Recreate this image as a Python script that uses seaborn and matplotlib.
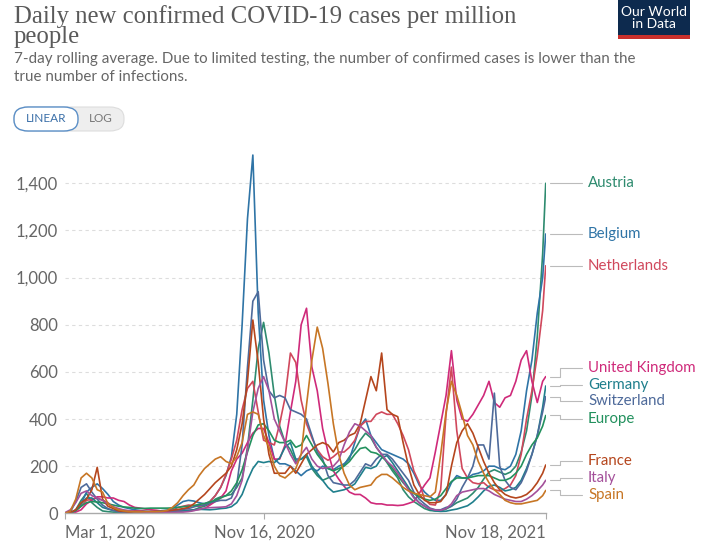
import pandas as pd
import numpy as np
import seaborn as sns
import matplotlib.pyplot as plt
import matplotlib.transforms as mtransforms
from matplotlib.patches import FancyBboxPatch, Rectangle

# weekly dates from Mar 1 2020, last point Nov 18 2021
dates = list(pd.date_range("2020-03-01", periods=90, freq="7D")) + [pd.Timestamp("2021-11-18")]

austria = [0, 2, 15, 55, 85, 45, 25, 10, 7, 5,
           4, 4, 4, 3, 3, 3, 5, 8, 11, 12,
           12, 12, 13, 9, 14, 24, 30, 40, 60, 70,
           75, 80, 110, 150, 280, 480, 700, 810, 680, 500,
           370, 300, 270, 220, 230, 240, 190, 160, 140, 150,
           160, 180, 205, 240, 270, 310, 340, 320, 280, 250,
           215, 180, 150, 100, 70, 50, 35, 20, 12, 10,
           10, 18, 30, 45, 55, 65, 85, 110, 145, 175,
           185, 175, 165, 175, 200, 260, 350, 500, 750, 1100,
           1400]
belgium = [0, 2, 12, 40, 90, 110, 125, 105, 80, 50,
           35, 25, 20, 15, 12, 9, 8, 8, 10, 12,
           20, 35, 50, 55, 52, 45, 40, 50, 75, 110,
           160, 240, 420, 800, 1250, 1520, 850, 480, 330, 230,
           210, 210, 200, 180, 160, 180, 190, 180, 200, 190,
           185, 200, 210, 230, 300, 370, 400, 330, 300, 270,
           260, 250, 240, 230, 210, 170, 120, 90, 70, 55,
           55, 80, 130, 160, 150, 150, 165, 170, 180, 200,
           200, 190, 185, 200, 250, 350, 520, 650, 850, 1000,
           1185]
netherlands = [0, 2, 10, 30, 55, 60, 65, 55, 45, 25,
               15, 12, 10, 10, 10, 8, 5, 3, 4, 6,
               12, 25, 30, 35, 33, 30, 35, 50, 75, 110,
               165, 230, 310, 440, 530, 560, 430, 310, 300, 290,
               380, 490, 680, 640, 480, 380, 320, 270, 240, 225,
               240, 260, 260, 280, 310, 370, 390, 390, 420, 430,
               420, 420, 380, 330, 270, 180, 130, 60, 38, 35,
               100, 420, 620, 350, 190, 150, 130, 125, 130, 110,
               100, 95, 105, 120, 160, 250, 400, 520, 670, 860,
               1050]
uk = [0, 1, 5, 15, 40, 55, 70, 70, 65, 65,
      55, 50, 35, 25, 22, 18, 15, 13, 10, 9,
      10, 11, 12, 13, 15, 16, 20, 35, 50, 65,
      95, 180, 230, 255, 300, 340, 360, 360, 300, 230,
      230, 290, 430, 560, 800, 870, 620, 520, 360, 260,
      180, 145, 115, 90, 80, 80, 65, 45, 40, 40,
      35, 35, 33, 35, 42, 50, 85, 120, 150, 260,
      380, 500, 690, 480, 400, 390, 420, 460, 500, 560,
      470, 450, 490, 500, 560, 650, 690, 560, 470, 560,
      580]
germany = [0, 1, 12, 40, 65, 65, 45, 25, 18, 12,
           10, 8, 6, 5, 4, 4, 7, 6, 5, 5,
           6, 8, 10, 12, 15, 17, 16, 15, 17, 20,
           22, 28, 45, 80, 140, 190, 220, 215, 220, 215,
           235, 280, 300, 230, 230, 250, 200, 170, 140, 110,
           90, 95, 100, 110, 125, 160, 195, 190, 200, 235,
           245, 215, 180, 145, 110, 70, 45, 30, 16, 10,
           8, 9, 14, 18, 25, 32, 48, 70, 95, 115,
           120, 110, 95, 100, 110, 140, 190, 250, 330, 450,
           540]
switzerland = [0, 5, 50, 110, 125, 90, 60, 35, 20, 12,
               6, 4, 3, 2, 2, 3, 5, 8, 11, 12,
               12, 15, 17, 20, 27, 33, 35, 45, 50, 55,
               55, 65, 120, 290, 620, 900, 940, 650, 520, 490,
               500, 490, 440, 430, 420, 400, 330, 260, 230, 160,
               130, 125, 120, 120, 140, 175, 210, 200, 230, 250,
               250, 230, 200, 170, 140, 90, 60, 40, 22, 15,
               15, 25, 30, 60, 110, 150, 200, 290, 290, 230,
               510, 200, 140, 110, 100, 130, 180, 250, 330, 430,
               495]
europe = [0, 3, 12, 30, 45, 50, 48, 45, 40, 35,
          30, 27, 25, 22, 21, 21, 22, 22, 22, 22,
          23, 25, 28, 30, 33, 38, 42, 48, 55, 65,
          75, 95, 130, 185, 260, 330, 375, 380, 350, 310,
          300, 300, 310, 280, 290, 330, 290, 250, 220, 190,
          180, 190, 200, 220, 250, 275, 280, 260, 255, 240,
          220, 190, 160, 130, 105, 85, 70, 60, 55, 60,
          75, 105, 135, 150, 150, 150, 155, 160, 160, 160,
          150, 140, 140, 150, 170, 200, 250, 290, 320, 370,
          415]
france = [0, 3, 15, 45, 60, 100, 195, 60, 30, 20,
          10, 8, 5, 8, 5, 6, 7, 8, 8, 8,
          13, 16, 20, 25, 40, 60, 80, 105, 130, 150,
          170, 200, 270, 380, 560, 820, 640, 400, 250, 170,
          170, 170, 200, 170, 210, 250, 270, 290, 300, 290,
          260, 300, 310, 330, 340, 380, 480, 580, 520, 680,
          440, 420, 410, 300, 200, 120, 80, 55, 45, 45,
          50, 80, 200, 300, 350, 380, 340, 280, 220, 170,
          130, 100, 80, 70, 65, 70, 80, 100, 130, 170,
          205]
italy = [3, 15, 45, 85, 95, 75, 65, 55, 40, 28,
         20, 14, 11, 7, 6, 5, 4, 4, 3, 4,
         4, 5, 5, 7, 11, 17, 22, 24, 25, 26,
         28, 40, 75, 140, 270, 430, 530, 580, 520, 400,
         350, 300, 250, 210, 250, 280, 230, 200, 190, 195,
         200, 225, 290, 345, 380, 370, 350, 330, 280, 250,
         220, 200, 170, 135, 100, 65, 45, 30, 19, 14,
         13, 20, 40, 75, 90, 95, 100, 105, 105, 95,
         80, 70, 60, 55, 50, 50, 60, 75, 95, 120,
         140]
spain = [0, 10, 60, 150, 170, 150, 100, 90, 40, 25,
         15, 10, 8, 6, 6, 7, 7, 7, 8, 12,
         25, 45, 75, 100, 120, 160, 190, 210, 230, 240,
         220, 210, 240, 300, 420, 430, 420, 330, 280, 200,
         160, 150, 170, 190, 250, 460, 650, 790, 700, 550,
         380, 250, 170, 120, 100, 110, 115, 120, 150, 165,
         165, 150, 130, 110, 95, 85, 80, 75, 70, 90,
         250, 430, 560, 500, 420, 330, 290, 220, 170, 130,
         100, 80, 55, 45, 40, 40, 45, 50, 55, 75,
         97]

names = ["Austria", "Belgium", "Netherlands", "United Kingdom", "Germany",
         "Switzerland", "Europe", "France", "Italy", "Spain"]
series = [austria, belgium, netherlands, uk, germany, switzerland, europe, france, italy, spain]
colors = ["#2E8B6F", "#2F74A6", "#D0485C", "#CF2A7A", "#1F7F8C",
          "#4E6A9A", "#23915E", "#B5461D", "#A4509A", "#C77625"]
# where the right-hand labels sit (value units)
label_pos = [1400, 1185, 1050, 616, 545, 477, 400, 222, 150, 78]

yticks = [0, 200, 400, 600, 800, 1000, 1200, 1400]
ytick_labels = ["0", "200", "400", "600", "800", "1,000", "1,200", "1,400"]
xticks = [pd.Timestamp("2020-03-01"), pd.Timestamp("2020-11-16"), pd.Timestamp("2021-11-18")]
xtick_labels = ["Mar 1, 2020", "Nov 16, 2020", "Nov 18, 2021"]

df = pd.concat([pd.DataFrame({"date": dates, "cases": s, "country": n})
                for n, s in zip(names, series)], ignore_index=True)

sns.set_theme(style="white")
plt.rcParams['font.family'] = ['Lato', 'DejaVu Sans']

fig = plt.figure(figsize=(7.09, 5.51), dpi=100)
ax = fig.add_axes([0.0917, 0.0684, 0.678, 0.6545])

sns.lineplot(data=df, x="date", y="cases", hue="country", hue_order=names,
             palette=dict(zip(names, colors)), estimator=None, linewidth=1.2,
             legend=False, ax=ax)

ax.set_xlim(xticks[0], xticks[-1])
ax.set_ylim(0, 1530)
ax.set_xlabel("")
ax.set_ylabel("")
for sp in ["left", "right", "top"]:
    ax.spines[sp].set_visible(False)
ax.spines["bottom"].set_color("#aaaaaa")
ax.spines["bottom"].set_linewidth(1.0)

ax.set_yticks(yticks)
ax.set_yticklabels(ytick_labels)
ax.tick_params(axis="y", length=0, pad=5, labelsize=12, labelcolor="#666666")
for y in yticks[1:]:
    ax.axhline(y, color="#dddddd", linewidth=0.8, linestyle=(0, (3, 3)), zorder=0)

ax.set_xticks(xticks)
ax.set_xticklabels(xtick_labels)
ax.tick_params(axis="x", length=4, width=0.8, color="#aaaaaa", pad=4,
               labelsize=12, labelcolor="#666666", bottom=True)
xl = ax.get_xticklabels()
xl[0].set_ha("left")
xl[-1].set_ha("right")

# right-hand labels with connectors
trans = mtransforms.blended_transform_factory(ax.transAxes, ax.transData)
for n, s, c, ly in zip(names, series, colors, label_pos):
    ey = s[-1]
    ax.plot([1.008, 1.03, 1.03, 1.075], [ey, ey, ly, ly], transform=trans,
            color="#bbbbbb", linewidth=0.8, clip_on=False)
    ax.text(1.088, ly, n, transform=trans, va="center", ha="left",
            fontsize=10.8, color=c)

# title and subtitle
fig.text(14 / 709, 1 - 23 / 551, "Daily new confirmed COVID-19 cases per million",
         family=["Liberation Serif"], fontsize=17.8, color="#5a5a5a", va="baseline")
fig.text(14 / 709, 1 - 43 / 551, "people",
         family=["Liberation Serif"], fontsize=17.8, color="#5a5a5a", va="baseline")
fig.text(14 / 709, 1 - 63 / 551,
         "7-day rolling average. Due to limited testing, the number of confirmed cases is lower than the",
         fontsize=10.9, color="#666666", va="baseline")
fig.text(14 / 709, 1 - 81 / 551, "true number of infections.",
         fontsize=10.9, color="#666666", va="baseline")

# LINEAR / LOG toggle
fig.patches.append(FancyBboxPatch((14 / 709, 1 - 131 / 551), 110 / 709, 24 / 551,
                                  boxstyle="round,pad=0,rounding_size=0.02",
                                  transform=fig.transFigure, facecolor="#eeeeee",
                                  edgecolor="#dddddd", linewidth=0.8))
fig.patches.append(FancyBboxPatch((14 / 709, 1 - 131 / 551), 64 / 709, 24 / 551,
                                  boxstyle="round,pad=0,rounding_size=0.02",
                                  transform=fig.transFigure, facecolor="white",
                                  edgecolor="#5b8fc7", linewidth=1.0))
fig.text(46 / 709, 1 - 119 / 551, "LINEAR", fontsize=8.5, color="#3a6fa8",
         ha="center", va="center")
fig.text(101 / 709, 1 - 119 / 551, "LOG", fontsize=8.5, color="#777777",
         ha="center", va="center")

# logo
fig.patches.append(Rectangle((618 / 709, 1 - 35 / 551), 72 / 709, 35 / 551,
                             transform=fig.transFigure, facecolor="#0d2a4e", edgecolor="none"))
fig.patches.append(Rectangle((618 / 709, 1 - 39 / 551), 72 / 709, 4 / 551,
                             transform=fig.transFigure, facecolor="#c9302c", edgecolor="none"))
fig.text(654 / 709, 1 - 18 / 551, "Our World\nin Data", fontsize=10, color="white",
         ha="center", va="center", linespacing=1.0)

fig.savefig("out.png", dpi=100)
